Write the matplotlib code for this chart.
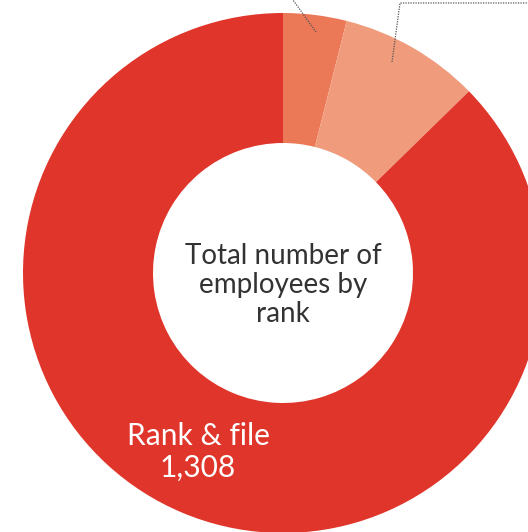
#!/usr/bin/env python3
import matplotlib
matplotlib.use('Agg')
import matplotlib.pyplot as plt

# Employees by rank (only the rank & file label is inside the frame)
ranks = ['Officials', 'Supervisors', 'Rank & file']
counts = [59, 131, 1308]
colors = ['#EB7857', '#F09C7C', '#E0352A']

# figure is laid out in pixel units, y measured upwards
W, H = 528, 532
cx, cy = 283, H - 273
r_out = 260
ring = 130

fig = plt.figure(figsize=(W / 100, H / 100), dpi=100)
ax = fig.add_axes([0, 0, 1, 1])

ax.pie(counts, colors=colors, startangle=90, counterclock=False,
       radius=r_out, center=(cx, cy), frame=True,
       wedgeprops={'width': ring, 'linewidth': 0})
ax.set_xlim(0, W)
ax.set_ylim(0, H)
ax.set_aspect('equal')
ax.axis('off')

# centre title
ax.text(cx, H - 285, 'Total number of\nemployees by\nrank', ha='center',
        va='center', fontsize=20, color='#333333', family='Lato',
        linespacing=1.12)

# label for the large wedge
ax.text(198, H - 452, '{}\n{:,}'.format(ranks[2], counts[2]), ha='center',
        va='center', fontsize=21.5, color='white', family='Lato',
        linespacing=1.14)

# leader lines for the small wedges (their labels sit outside the crop)
ax.plot([316, 293], [H - 32, H], ls=(0, (1, 1)), color='#555555', lw=0.9)
ax.plot([392, 400, W], [H - 62, H - 3, H - 3], ls=(0, (1, 1)),
        color='#555555', lw=0.9)

plt.savefig('out.png', dpi=100)
plt.close()
